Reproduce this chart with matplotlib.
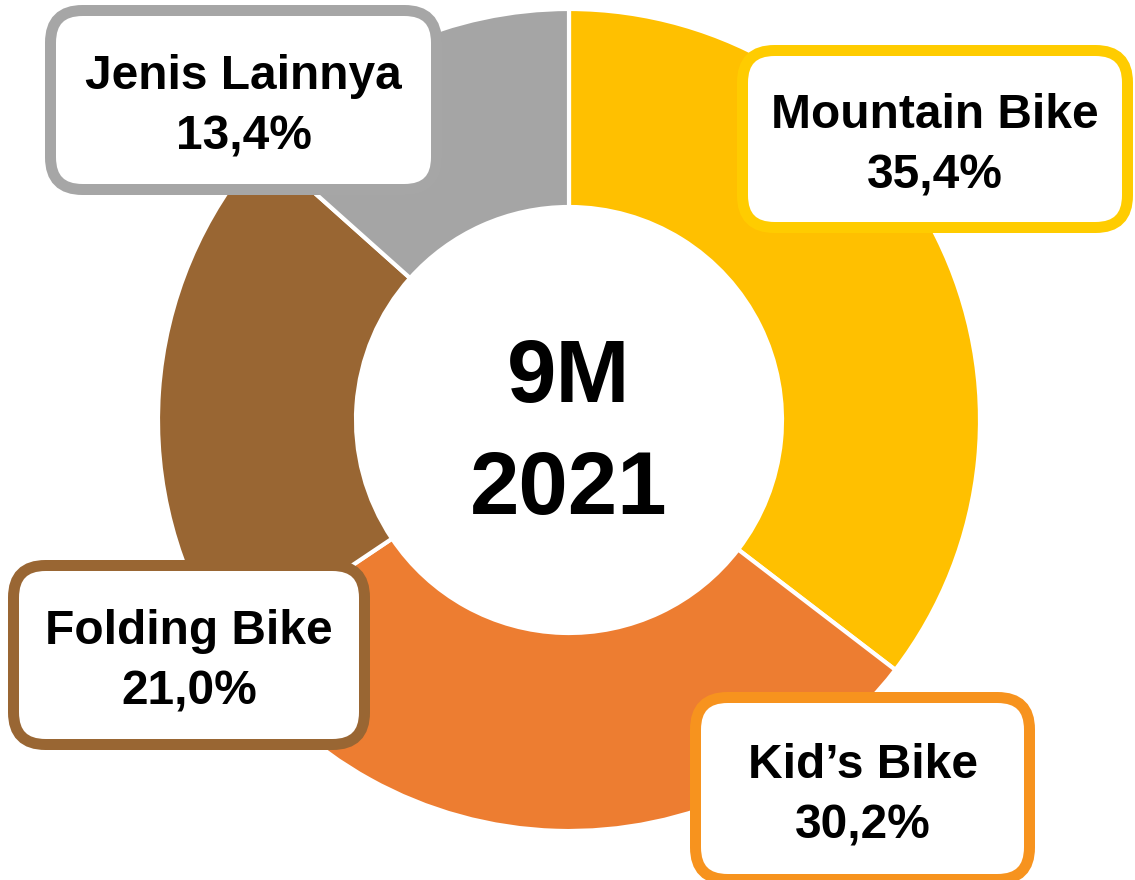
import matplotlib
matplotlib.use('Agg')
from matplotlib import pyplot as plt
from matplotlib.patches import FancyBboxPatch

# data
categories = ['Mountain Bike', "Kid\u2019s Bike", 'Folding Bike', 'Jenis Lainnya']
shares = [35.4, 30.2, 21.0, 13.4]
labels = ['35,4%', '30,2%', '21,0%', '13,4%']
wedge_colors = ['#FFC000', '#ED7D31', '#996633', '#A5A5A5']
border_colors = ['#FFCC00', '#F7931E', '#996633', '#A6A6A6']
center_text = '9M\n2021'

W, H = 1135, 880
fig = plt.figure(figsize=(W / 100, H / 100), dpi=100)
ax = fig.add_axes([0, 0, 1, 1])

# donut, pixel coordinates (y measured from the bottom)
cx, cy, r_out, r_in = 569, H - 420, 411, 213
ax.pie(shares, colors=wedge_colors, startangle=90, counterclock=False,
       center=(cx, cy), radius=r_out, frame=True,
       wedgeprops=dict(width=r_out - r_in, edgecolor='white', linewidth=3))
ax.set_xlim(0, W)
ax.set_ylim(0, H)
ax.set_aspect('equal')
ax.axis('off')

ax.text(cx, cy - 15, center_text, ha='center', va='center', fontsize=64,
        fontweight='bold', family='Liberation Sans', linespacing=1.42)

# label boxes: outer left, top, right, bottom in image pixels
boxes = [(737, 45, 1133, 233),
         (690, 692, 1035, 885),
         (8, 560, 370, 750),
         (45, 5, 442, 195)]
lw_px = 11
for (x0, y0, x1, y1), name, lab, col in zip(boxes, categories, labels, border_colors):
    h = lw_px / 2
    patch = FancyBboxPatch((x0 + h, H - y1 + h), (x1 - x0) - 2 * h, (y1 - y0) - 2 * h,
                           boxstyle='round,pad=0,rounding_size=32',
                           facecolor='white', edgecolor=col, linewidth=lw_px * 0.72,
                           zorder=3)
    ax.add_patch(patch)
    mx = (x0 + x1) / 2
    my = H - (y0 + y1) / 2
    ax.text(mx, my - 7, name + '\n' + lab, ha='center', va='center', fontsize=34.5,
            fontweight='bold', family='Liberation Sans', linespacing=1.45, zorder=4)

fig.savefig('out.png', dpi=100)
